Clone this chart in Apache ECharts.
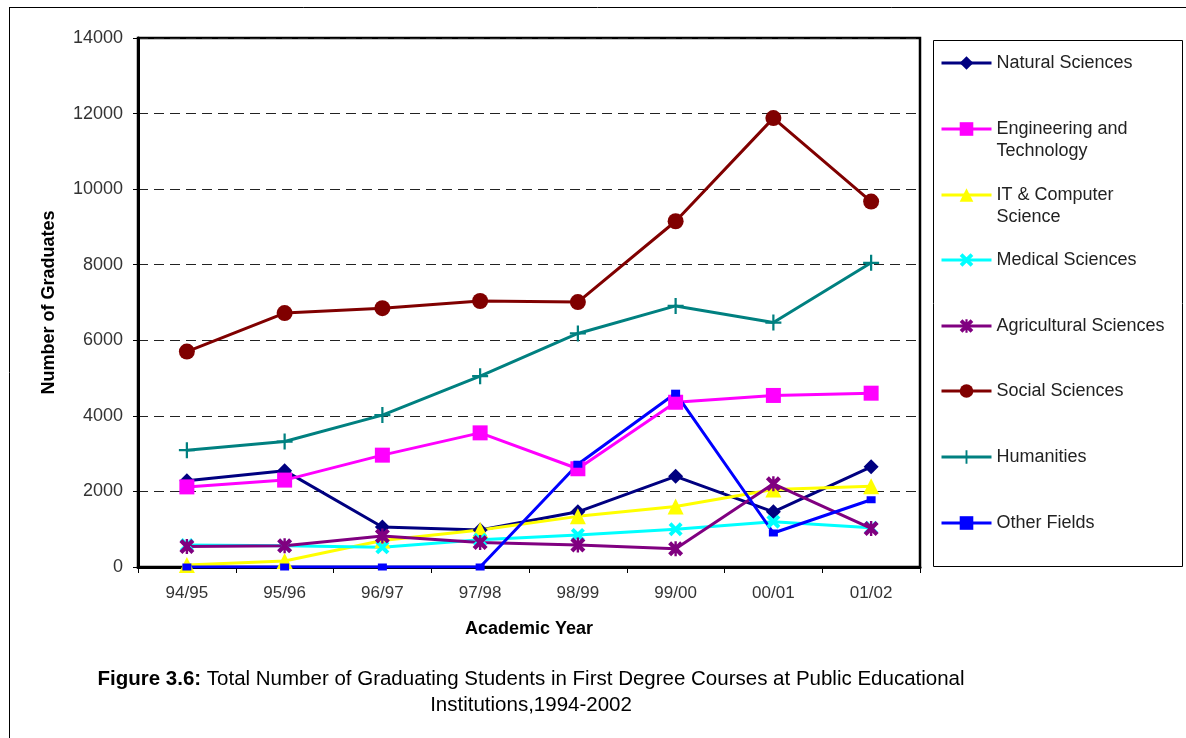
<!DOCTYPE html>
<html>
<head>
<meta charset="utf-8">
<script src="https://cdn.jsdelivr.net/npm/echarts@6/dist/echarts.min.js"></script>
<style>
html,body{margin:0;padding:0;background:#fff;}
#chart{width:1186px;height:738px;}
</style>
</head>
<body>
<div id="chart"></div>
<script>
const categories = ['94/95','95/96','96/97','97/98','98/99','99/00','00/01','01/02'];
const naturalSciences = [2280, 2550, 1060, 980, 1460, 2400, 1460, 2650];
const engineering = [2120, 2300, 2960, 3550, 2600, 4360, 4540, 4600];
const itComputer = [50, 160, 700, 980, 1340, 1600, 2050, 2140];
const medical = [580, 560, 520, 720, 850, 1000, 1200, 1040];
const agricultural = [540, 560, 820, 650, 580, 480, 2200, 1020];
const socialSciences = [5700, 6720, 6850, 7040, 7010, 9150, 11880, 9670];
const humanities = [3090, 3320, 4020, 5050, 6180, 6910, 6470, 8050];
const otherFields = [0, 0, 0, 0, 2720, 4600, 900, 1780];
const yTicks = [0, 2000, 4000, 6000, 8000, 10000, 12000, 14000];

const seriesNames = ['Natural Sciences','Engineering and Technology','IT & Computer Science','Medical Sciences','Agricultural Sciences','Social Sciences','Humanities','Other Fields'];
const legendLabels = ['Natural Sciences',' \nEngineering and\nTechnology',' \nIT & Computer\nScience','Medical Sciences','Agricultural Sciences','Social Sciences','Humanities','Other Fields'];
const seriesData = [naturalSciences, engineering, itComputer, medical, agricultural, socialSciences, humanities, otherFields];
const colors = ['#000080','#FF00FF','#FFFF00','#00FFFF','#800080','#800000','#008080','#0000FF'];

const xPath = 'path://M2,0L5,3L8,0L10,2L7,5L10,8L8,10L5,7L2,10L0,8L3,5L0,2Z';
const starPath = 'path://M2,0L5,3L8,0L10,2L7,5L10,8L8,10L5,7L2,10L0,8L3,5L0,2Z M4.2,0L5.8,0L5.8,10L4.2,10Z';
const plusPath = 'path://M4.3,0L5.7,0L5.7,4.3L10,4.3L10,5.7L5.7,5.7L5.7,10L4.3,10L4.3,5.7L0,5.7L0,4.3L4.3,4.3Z';
const symbols = ['diamond','rect','triangle',xPath,starPath,'circle',plusPath,'rect'];
const symbolSizes = [15, 15, 16, 14, 15, 16, 16, [9,7]];

const FONT = 'Liberation Sans, Arial, sans-serif';

const series = seriesNames.map((n, i) => ({
  name: n,
  type: 'line',
  data: seriesData[i],
  symbol: symbols[i],
  symbolSize: symbolSizes[i],
  showAllSymbol: true,
  lineStyle: {color: colors[i], width: 3},
  itemStyle: {color: colors[i]},
  emphasis: {disabled: true},
  animation: false
}));

const legendCenters = [63, 129, 195, 260, 326, 391, 457, 523];
const legends = seriesNames.map((n, i) => {
  const lines = legendLabels[i].split('\n').length;
  return {
    show: true,
    left: 940,
    top: legendCenters[i] - 11 * lines,
    itemWidth: 50,
    itemHeight: 17,
    itemGap: 0,
    padding: 0,
    selectedMode: false,
    data: [n],
    lineStyle: {width: 3},
    formatter: () => legendLabels[i],
    textStyle: {fontFamily: FONT, fontSize: 18, color: '#222', lineHeight: 22}
  };
});

const chart = echarts.init(document.getElementById('chart'), null, {renderer: 'canvas'});
chart.setOption({
  backgroundColor: '#fff',
  animation: false,
  color: colors,
  title: {
    left: 526,
    top: 661,
    textAlign: 'center',
    text: '{b|Figure 3.6:} {n|Total Number of Graduating Students in First Degree Courses at Public Educational}\n{n|Institutions,1994-2002}',
    textStyle: {
      fontWeight: 'normal',
      fontSize: 20.5,
      fontFamily: FONT,
      rich: {
        b: {fontFamily: FONT, fontSize: 20.5, fontWeight: 'bold', color: '#000', lineHeight: 26},
        n: {fontFamily: FONT, fontSize: 20.5, fontWeight: 'normal', color: '#000', lineHeight: 26}
      }
    }
  },
  legend: legends,
  grid: {
    left: 138, top: 38, width: 782, height: 529,
    show: true, borderColor: '#000', borderWidth: 2.5, backgroundColor: 'transparent'
  },
  xAxis: {
    type: 'category',
    data: categories,
    boundaryGap: true,
    name: 'Academic Year',
    nameLocation: 'middle',
    nameGap: 53,
    nameTextStyle: {fontFamily: FONT, fontSize: 18, fontWeight: 'bold', color: '#000'},
    axisLine: {lineStyle: {color: '#000', width: 3}},
    axisTick: {show: true, alignWithLabel: false, length: 6, lineStyle: {color: '#000', width: 1}},
    axisLabel: {fontFamily: FONT, fontSize: 17, color: '#333', margin: 18, interval: 0}
  },
  yAxis: {
    type: 'value',
    min: 0, max: 14000, interval: 2000,
    name: 'Number of Graduates',
    nameLocation: 'middle',
    nameGap: 80,
    nameRotate: 90,
    nameTextStyle: {fontFamily: FONT, fontSize: 18, fontWeight: 'bold', color: '#000'},
    axisLine: {show: true, lineStyle: {color: '#000', width: 3}},
    axisTick: {show: true, length: 5, lineStyle: {color: '#000', width: 1}},
    axisLabel: {fontFamily: FONT, fontSize: 18, color: '#333', margin: 15,
      formatter: v => yTicks.indexOf(v) >= 0 ? String(v) : ''},
    splitLine: {show: true, lineStyle: {color: '#222', width: 1.2, type: [10, 6]}}
  },
  graphic: [
    {type: 'rect', shape: {x: 933.5, y: 40.5, width: 249, height: 526}, style: {fill: null, stroke: '#000', lineWidth: 1}, silent: true, z: -1},
    {type: 'line', shape: {x1: 9, y1: 7.5, x2: 1186, y2: 7.5}, style: {stroke: '#000', lineWidth: 1}, silent: true},
    {type: 'line', shape: {x1: 9.5, y1: 7, x2: 9.5, y2: 738}, style: {stroke: '#000', lineWidth: 1}, silent: true}
  ],
  series: series
});
</script>
</body>
</html>
